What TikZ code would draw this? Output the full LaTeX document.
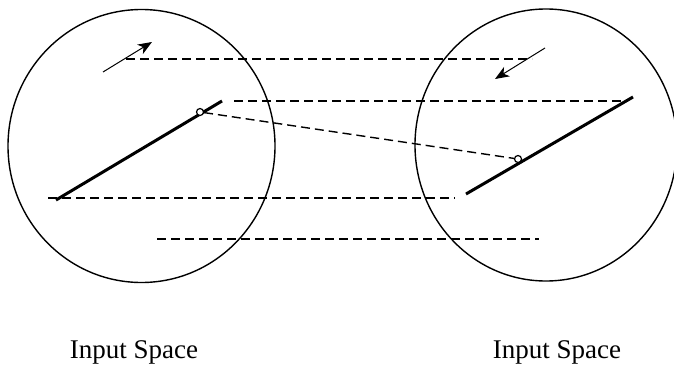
\documentclass[tikz,border=0pt]{standalone}
\usepackage{fontspec}
\setmainfont{Liberation Serif}
\usetikzlibrary{arrows.meta}
\tikzset{
  spacec/.style={draw=black, line width=1.4pt},
  segl/.style={line width=3pt},
  projl/.style={dash pattern=on 9pt off 5pt, line width=1.4pt},
  dirarr/.style={-{Stealth[length=14pt,width=11pt,inset=4pt]}, line width=1pt},
  pivot/.style={circle, draw, fill=white, line width=1.2pt, inner sep=0pt,
    minimum size=7pt},
  caplab/.style={font=\fontsize{27}{30}\selectfont, anchor=base},
}

\begin{document}
\begin{tikzpicture}[x=1pt, y=-1pt]
  \clip (0,0) rectangle (674,364);
  % end points of the projection lines
  \coordinate (h1a) at (126,59);  \coordinate (h1b) at (532,59);
  \coordinate (h2a) at (234,101); \coordinate (h2b) at (624,101);
  \coordinate (h3a) at (48,198);  \coordinate (h3b) at (455,198);
  \coordinate (h4a) at (157,239); \coordinate (h4b) at (539,239);
  \draw[projl] (h1a) -- (h1b);
  \draw[projl] (h2a) -- (h2b);
  \draw[projl] (h3a) -- (h3b);
  \draw[projl] (h4a) -- (h4b);
  % the two spaces
  \draw[spacec] (141.5,146) ellipse [x radius=133.5, y radius=136.5];
  \draw[spacec] (546,145) ellipse [x radius=131, y radius=136];
  % segments
  \coordinate (sla) at (56,200);  \coordinate (slb) at (222,101);
  \coordinate (sra) at (466,194); \coordinate (srb) at (633,97);
  \draw[segl] (sla) -- (slb);
  \draw[segl] (sra) -- (srb);
  % directions
  \coordinate (al0) at (103,72);  \coordinate (al1) at (152,42);
  \coordinate (ar0) at (545,48);  \coordinate (ar1) at (495,79);
  \draw[dirarr] (al0) -- (al1);
  \draw[dirarr] (ar0) -- (ar1);
  % matched points
  \node[pivot] (pl) at (200,112) {};
  \node[pivot] (pr) at (518,159) {};
  \draw[projl] (pl) -- (pr);
  \node[caplab] (capl) at (134,358) {Input Space};
  \node[caplab] (capr) at (557,358) {Input Space};
\end{tikzpicture}
\end{document}
